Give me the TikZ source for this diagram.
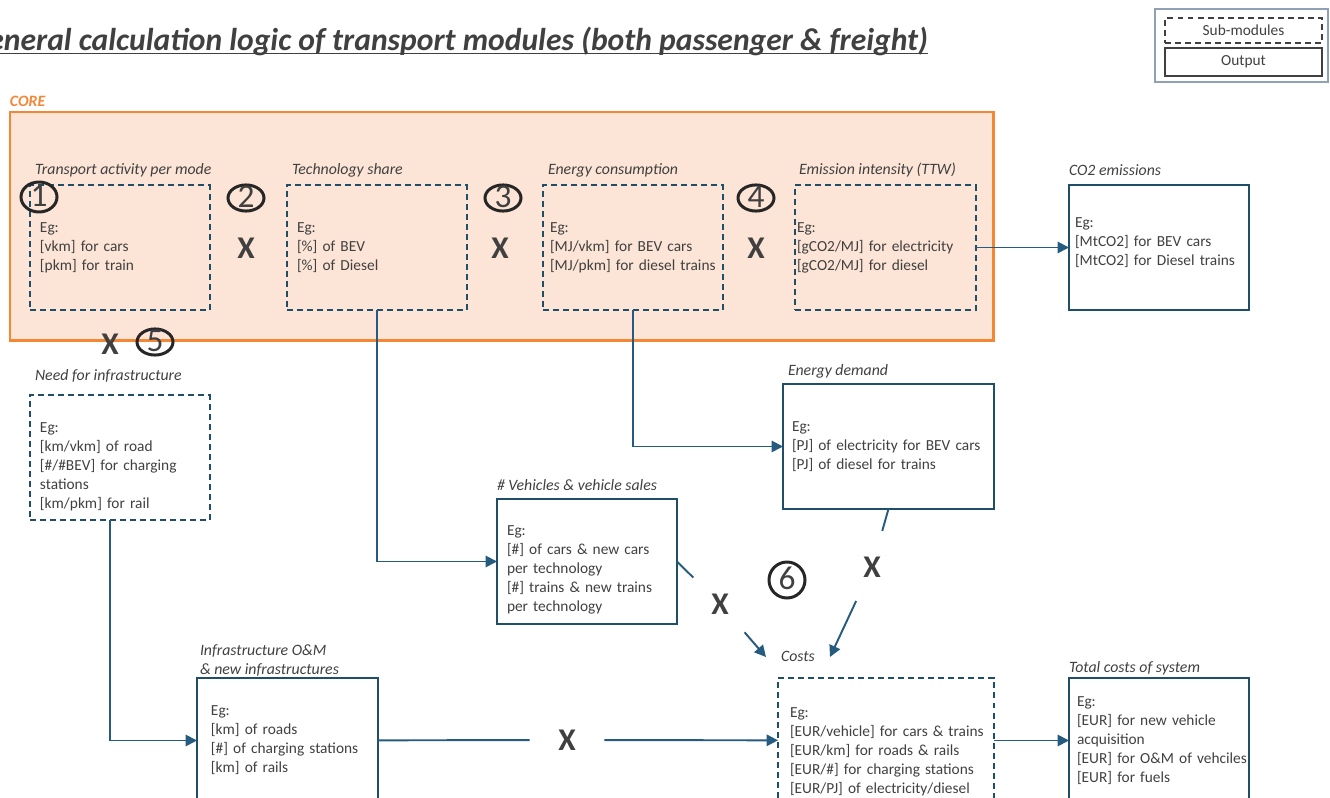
\documentclass[tikz,border=0pt]{standalone}
\usepackage{fontspec}
\setmainfont{Carlito}
\usetikzlibrary{arrows.meta,shapes.geometric}
\definecolor{boxblue}{HTML}{1F4E69}
\definecolor{linkblue}{HTML}{245B7E}
\definecolor{txtgray}{HTML}{404040}
\definecolor{coreorange}{HTML}{F58634}
\definecolor{corefill}{HTML}{FCE4D6}
\definecolor{legframe}{HTML}{8EA1B5}
\hyphenpenalty=10000
\exhyphenpenalty=10000
\newcommand\titleline[1]{\setbox0\hbox{#1}\rlap{\rule[-2.4pt]{\wd0}{0.9pt}}\box0}

\begin{document}
\begin{tikzpicture}[x=0.02cm, y=-0.02cm, font=\fontsize{8.75}{10.8}\selectfont, text=txtgray,
    every node/.style={anchor=north west, outer sep=0pt},
    boxdim/.style n args={3}{minimum width=#1cm, inner xsep=#2cm, text width=#3cm},
    module/.style={draw=boxblue, line width=1.1pt, minimum height=2.5cm, align=left},
    sub/.style={module, dash pattern=on 3.4pt off 2.3pt},
    output/.style={module},
    heading/.style={anchor=base west, inner sep=0pt, font=\fontsize{9}{10.8}\selectfont\itshape},
    times/.style={circle, minimum size=1.5cm, inner sep=0pt, anchor=center, font=\fontsize{18}{18}\selectfont\bfseries},
    stepno/.style={ellipse, draw=black!85, line width=1.7pt, minimum width=0.72cm, minimum height=0.52cm, inner sep=0pt, text height=10.5pt, text depth=0pt, anchor=center, font=\fontsize{19}{19}\selectfont},
    link/.style={draw=linkblue, line width=1.1pt},
    arrow/.style={link, -{Triangle[length=6.5pt, width=6.5pt]}}]
        \useasboundingbox (0,0) rectangle (1330,798);

        \node[anchor=base east, inner sep=0pt, font=\fontsize{18}{20}\selectfont\bfseries\itshape] (title) at (928,50) {\titleline{General calculation logic of transport modules (both passenger \& freight)}};

        \node[draw=legframe, line width=0.6pt, minimum width=3.46cm, minimum height=1.46cm] (legend) at (1155,9) {};
        \node[draw=txtgray, line width=1.1pt, dash pattern=on 3.4pt off 2.3pt, minimum width=3.14cm, minimum height=0.5cm] (legsub) at (1165,18) {Sub-modules};
        \node[draw=txtgray, line width=1.1pt, minimum width=3.14cm, minimum height=0.56cm] (legout) at (1165,48) {Output};

        \node[anchor=base west, inner sep=0pt, text=coreorange, font=\fontsize{9}{10.8}\selectfont\bfseries\itshape] (corelabel) at (10,106) {CORE};
        \node[draw=coreorange, fill=corefill, line width=1.7pt, minimum width=19.68cm, minimum height=4.58cm, inner sep=0pt] (core) at (10,112) {};

        \node[heading] (actT) at (35,174) {Transport activity per mode};
        \node[sub, boxdim={3.6}{0.2}{3.2}] (act) at (30,185) {Eg:\\{[vkm]} for cars\\{[pkm]} for train};
        \node[heading] (shareT) at (292,174) {Technology share};
        \node[sub, boxdim={3.6}{0.2}{3.2}] (share) at (287,185) {Eg:\\{[\%]} of BEV\\{[\%]} of Diesel};
        \node[heading] (consT) at (548,174) {Energy consumption};
        \node[sub, boxdim={3.6}{0.14}{3.32}] (cons) at (543,185) {Eg:\\{[MJ/vkm]}~for~BEV~cars\\{[MJ/pkm]}~for~diesel~trains};
        \node[heading] (emisT) at (799,174) {Emission intensity (TTW)};
        \node[sub, boxdim={3.62}{0.04}{3.54}] (emis) at (795,185) {Eg:\\{[gCO2/MJ]}~for~electricity\\{[gCO2/MJ]}~for~diesel};
        \node[heading] (co2T) at (1069,175) {CO2 emissions};
        \node[output, boxdim={3.6}{0.12}{3.36}] (co2) at (1069,185) {Eg:\\{[MtCO2]}~for~BEV~cars\\{[MtCO2]}~for~Diesel~trains\rule[-6.5pt]{0pt}{0pt}};

        \node[heading] (needT) at (35,380) {Need for infrastructure};
        \node[sub, boxdim={3.6}{0.2}{3.2}] (need) at (30,395) {\rule{0pt}{16pt}Eg:\\{[km/vkm]}~of~road\\{[\#/\#BEV]}~for~charging\\stations\\{[km/pkm]}~for~rail};
        \node[heading] (edemT) at (788,375) {Energy demand};
        \node[output, boxdim={4.22}{0.18}{3.86}] (edem) at (783,384) {Eg:\\{[PJ]}~of~electricity~for~BEV~cars\\{[PJ]}~of~diesel~for~trains};
        \node[heading] (vehT) at (497,490) {\# Vehicles \& vehicle sales};
        \node[output, boxdim={3.6}{0.2}{3.2}] (veh) at (497,499) {\rule{0pt}{15pt}Eg:\\{[\#]}~of~cars~\&~new~cars\\per technology\\{[\#]}~trains~\&~new~trains\\per technology};
        \node[heading, align=left] (oamT) at (200,674) {Infrastructure O\&M\\\& new infrastructures};
        \node[output, boxdim={3.62}{0.28}{3.06}] (oam) at (197,678) {Eg:\\{[km]}~of~roads\\{[\#]}~of~charging~stations\\{[km]}~of~rails};
        \node[heading] (costsT) at (781,661) {Costs};
        \node[sub, boxdim={4.32}{0.24}{3.84}] (costs) at (778,678) {\rule{0pt}{18pt}Eg:\\{[EUR/vehicle]}~for~cars~\&~trains\\{[EUR/km]}~for~roads~\&~rails\\{[EUR/\#]}~for~charging~stations\\{[EUR/PJ]}~of~electricity/diesel};
        \node[heading] (totT) at (1069,672) {Total costs of system};
        \node[output, boxdim={3.6}{0.16}{3.28}] (tot) at (1069,678) {Eg:\\{[EUR]}~for~new~vehicle\\acquisition\\{[EUR]}~for~O\&M~of~vehciles\\{[EUR]}~for~fuels};

        \node[stepno, minimum height=0.6cm] (n1) at (39,197) {1};
        \node[stepno] (n2) at (246,198) {2};
        \node[stepno] (n3) at (503,198) {3};
        \node[stepno] (n4) at (756,198) {4};
        \node[stepno] (n5) at (155,342) {5};
        \node[stepno, minimum height=0.72cm] (n6) at (787,580) {6};

        \node[times] (x2) at (246,248) {X};
        \node[times] (x3) at (500,248) {X};
        \node[times] (x4) at (756,248) {X};
        \node[times] (x5) at (110,344) {X};
        \node[times] (xa) at (720,604) {X};
        \node[times] (xb) at (872,567) {X};
        \node[times] (xc) at (567,740) {X};
        \coordinate (cin1) at (766,657);
        \coordinate (cin2) at (830,657);

        \draw[arrow] (emis) -- (co2);
        \draw[arrow] (share.south) |- (veh);
        \draw[arrow] (cons.south) |- (edem);
        \draw[arrow] ([xshift=-0.2cm]need.south) |- (oam);
        \draw[link] (oam) -- (xc);
        \draw[arrow] (xc) -- (costs);
        \draw[arrow] (costs) -- (tot);
        \draw[link] (veh.east) -- (xa);
        \draw[arrow] (xa) -- (cin1);
        \draw[link] (edem.south) -- (xb);
        \draw[arrow] (xb) -- (cin2);
\end{tikzpicture}
\end{document}
